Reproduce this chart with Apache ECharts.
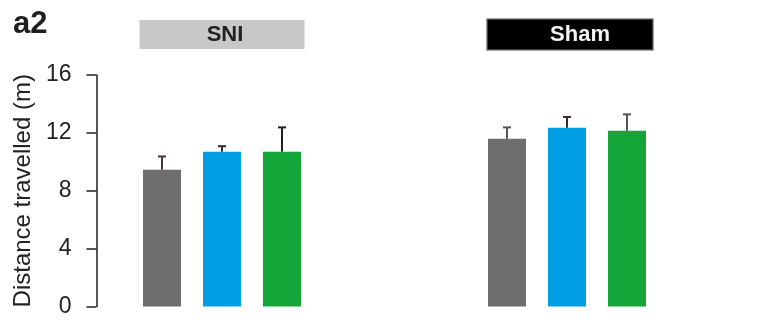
<!DOCTYPE html>
<html>
<head>
<meta charset="utf-8">
<script src="https://cdn.jsdelivr.net/npm/echarts@6/dist/echarts.min.js"></script>
<style>
  html, body { margin: 0; padding: 0; background: #fff; }
  #chart { width: 780px; height: 327px; }
</style>
</head>
<body>
<div id="chart"></div>
<script>
// Groups and per-condition means with SEM (distance travelled, metres)
const groups = ['SNI', 'Sham'];
const grayMeans = [9.45, 11.6];
const blueMeans = [10.7, 12.35];
const greenMeans = [10.7, 12.15];
const grayErr = [0.92, 0.78];
const blueErr = [0.38, 0.75];
const greenErr = [1.68, 1.13];
const yTicks = [0, 4, 8, 12, 16];

const BAR_W = 38;
const BAR_GAP = 22;
const FONT = 'Liberation Sans, Arial, sans-serif';
const barColors = ['#6e6e6c', '#009fe3', '#13a538'];
// error bar stroke colours, per series then per group
const errColors = [
  ['#4b3434', '#555555'],
  ['#3a2828', '#3a2828'],
  ['#231f20', '#555555']
];

function errorSeries(means, errs, seriesIdx) {
  const offset = (seriesIdx - 1) * (BAR_W + BAR_GAP);
  return {
    type: 'custom',
    silent: true,
    z: 3,
    data: means.map((m, i) => [i, m, m + errs[i]]),
    renderItem: function (params, api) {
      const i = api.value(0);
      const base = api.coord([i, api.value(1)]);
      const top = api.coord([i, api.value(2)]);
      const x = base[0] + offset;
      const col = errColors[seriesIdx][params.dataIndex];
      return {
        type: 'group',
        children: [
          { type: 'line', shape: { x1: x, y1: base[1], x2: x, y2: top[1] },
            style: { stroke: col, lineWidth: 2 } },
          { type: 'line', shape: { x1: x - 4, y1: top[1], x2: x + 4, y2: top[1] },
            style: { stroke: col, lineWidth: 2 } }
        ]
      };
    }
  };
}

const chart = echarts.init(document.getElementById('chart'));
chart.setOption({
  animation: false,
  backgroundColor: '#ffffff',
  title: {
    text: 'a2',
    left: 8,
    top: 4,
    textStyle: { fontFamily: FONT, fontSize: 31, fontWeight: 'bold', color: '#1f1f1f' }
  },
  grid: { left: 49.5, right: 40.5, top: 75, bottom: 20.5 },
  xAxis: {
    type: 'category',
    data: groups,
    position: 'top',
    axisLine: { show: false },
    axisTick: { show: false },
    axisLabel: {
      margin: 26,
      formatter: function (v) { return v === 'SNI' ? '{sni|' + v + '}' : '{pad|}{sham|' + v + '}'; },
      rich: {
        pad: { width: 6, height: 29 },
        sni: {
          width: 159, height: 29, lineHeight: 29, padding: [0, 0, 0, 6],
          align: 'center', backgroundColor: '#c8c8c8', color: '#222222',
          fontFamily: FONT, fontSize: 22, fontWeight: 'bold'
        },
        sham: {
          width: 144, height: 29, lineHeight: 29, padding: [0, 0, 0, 20],
          align: 'center', backgroundColor: '#000000', borderColor: '#444444', borderWidth: 1.5,
          color: '#f2f2f2',
          fontFamily: FONT, fontSize: 22, fontWeight: 'bold'
        }
      }
    }
  },
  yAxis: {
    type: 'value',
    min: yTicks[0],
    max: yTicks[yTicks.length - 1],
    interval: yTicks[1] - yTicks[0],
    offset: -47,
    name: 'Distance travelled (m)',
    nameLocation: 'middle',
    nameGap: 61,
    nameTextStyle: { fontFamily: FONT, fontSize: 24, color: '#222222' },
    axisLine: { show: true, lineStyle: { color: '#231f20', width: 1.5 } },
    axisTick: { show: true, length: 10, lineStyle: { color: '#231f20', width: 1.5 } },
    axisLabel: { margin: 25, fontFamily: FONT, fontSize: 23, color: '#222222' },
    splitLine: { show: false }
  },
  series: [
    { type: 'bar', data: grayMeans, barWidth: BAR_W, barGap: (BAR_GAP / BAR_W * 100) + '%', itemStyle: { color: barColors[0] } },
    { type: 'bar', data: blueMeans, barWidth: BAR_W, barGap: (BAR_GAP / BAR_W * 100) + '%', itemStyle: { color: barColors[1] } },
    { type: 'bar', data: greenMeans, barWidth: BAR_W, barGap: (BAR_GAP / BAR_W * 100) + '%', itemStyle: { color: barColors[2] } },
    errorSeries(grayMeans, grayErr, 0),
    errorSeries(blueMeans, blueErr, 1),
    errorSeries(greenMeans, greenErr, 2)
  ]
});
</script>
</body>
</html>
